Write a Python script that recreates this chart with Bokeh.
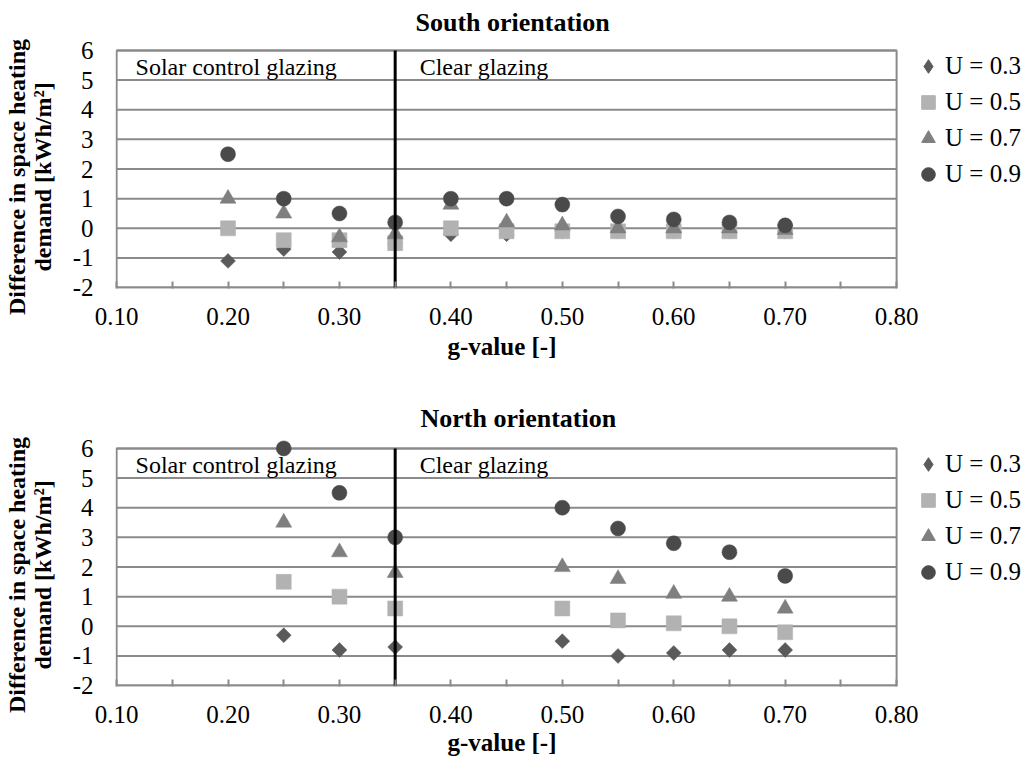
import math
from bokeh.plotting import figure
from bokeh.layouts import column
from bokeh.models import (Range1d, FixedTicker, NumeralTickFormatter, Legend,
                          LegendItem, Label, Title)
from bokeh.embed import file_html
from bokeh.resources import INLINE

# ---------------- data ----------------
series_labels = ["U = 0.3", "U = 0.5", "U = 0.7", "U = 0.9"]

south_g = [0.20, 0.25, 0.30, 0.35, 0.40, 0.45, 0.50, 0.55, 0.60, 0.65, 0.70]
south_u03 = [-1.1, -0.7, -0.8, -0.5, -0.2, -0.2, -0.1, -0.1, -0.1, -0.1, -0.1]
south_u05 = [0.0, -0.4, -0.4, -0.5, 0.0, -0.1, -0.1, -0.1, -0.1, -0.1, -0.1]
south_u07 = [1.0, 0.5, -0.3, -0.2, 0.8, 0.2, 0.1, 0.0, 0.0, 0.0, -0.05]
south_u09 = [2.5, 1.0, 0.5, 0.2, 1.0, 1.0, 0.8, 0.4, 0.3, 0.2, 0.1]

north_g = [0.25, 0.30, 0.35, 0.50, 0.55, 0.60, 0.65, 0.70]
north_u03 = [-0.3, -0.8, -0.7, -0.5, -1.0, -0.9, -0.8, -0.8]
north_u05 = [1.5, 1.0, 0.6, 0.6, 0.2, 0.1, 0.0, -0.2]
north_u07 = [3.5, 2.5, 1.8, 2.0, 1.6, 1.1, 1.0, 0.6]
north_u09 = [6.0, 4.5, 3.0, 4.0, 3.3, 2.8, 2.5, 1.7]

x_ticks = [0.10, 0.20, 0.30, 0.40, 0.50, 0.60, 0.70, 0.80]
x_minor = [0.15, 0.25, 0.35, 0.45, 0.55, 0.65, 0.75]
y_ticks = [-2, -1, 0, 1, 2, 3, 4, 5, 6]
g_boundary = 0.35
region_labels = ["Solar control glazing", "Clear glazing"]

# ---------------- style ----------------
FONT = "Liberation Serif"
GRID = "#8a8a8a"
COLORS = ["#5a5a5a", "#b2b2b2", "#7f7f7f", "#4a4a4a"]
PLOT_MARKERS = ["square", "square", "triangle", "circle"]
PLOT_ANGLES = [0.785398, 0.0, 0.0, 0.0]
PLOT_SIZES = [10.5, 15, 16, 15]
LEGEND_MARKERS = ["diamond", "square", "triangle", "circle"]

FRAME_W = 910            # plot area incl. the legend strip on the right
PX_PER_UNIT = 780 / 0.7  # g-axis scale
PAD = "\u00a0" * 4       # nudges the rotated y title slightly downward


def make_panel(title, g, series, min_top, min_bottom, title_offset, title_valign,
               xtitle_standoff):
    x0 = x_ticks[0] - 1.1 / PX_PER_UNIT
    x1 = x0 + FRAME_W / PX_PER_UNIT
    p = figure(frame_width=FRAME_W, frame_height=247, output_backend="svg", toolbar_location=None,
               x_range=Range1d(x0, x1),
               y_range=Range1d(y_ticks[0] - 0.03, y_ticks[-1] + 0.3),
               min_border_left=115, min_border_right=0,
               min_border_top=min_top, min_border_bottom=min_bottom,
               background_fill_color="white", border_fill_color="white")
    p.outline_line_color = None

    p.title.text = title
    p.title.text_font = FONT
    p.title.text_font_size = "26px"
    p.title.text_font_style = "bold"
    p.title.text_color = "black"
    p.title.align = "left"
    p.title.offset = title_offset
    p.title.vertical_align = title_valign

    xa = p.xaxis[0]
    xa.ticker = FixedTicker(ticks=x_ticks, minor_ticks=x_minor)
    xa.formatter = NumeralTickFormatter(format="0.00")
    xa.axis_line_color = None
    xa.major_tick_in = 7
    xa.major_tick_out = 0
    xa.minor_tick_in = 7
    xa.minor_tick_out = 0
    xa.major_tick_line_color = GRID
    xa.major_tick_line_width = 2
    xa.minor_tick_line_color = GRID
    xa.minor_tick_line_width = 2
    xa.major_label_standoff = 19
    xa.major_label_text_font = FONT
    xa.major_label_text_font_size = "25px"
    xa.major_label_text_color = "black"

    p.add_layout(Title(text="g-value [-]", align="left", offset=332,
                       text_font=FONT, text_font_size="25px", text_font_style="bold",
                       text_color="black", standoff=xtitle_standoff), "below")

    ya = p.yaxis[0]
    ya.ticker = FixedTicker(ticks=y_ticks)
    ya.formatter = NumeralTickFormatter(format="0")
    ya.axis_line_color = None
    ya.major_tick_in = 0
    ya.major_tick_out = 0
    ya.minor_tick_in = 0
    ya.minor_tick_out = 0
    ya.major_label_standoff = 22
    ya.major_label_text_font = FONT
    ya.major_label_text_font_size = "25px"
    ya.major_label_text_color = "black"
    ya.axis_label = "Difference in space heating" + PAD + "\ndemand [kWh/m\u00b2]" + PAD
    ya.axis_label_text_font = FONT
    ya.axis_label_text_font_size = "24px"
    ya.axis_label_text_font_style = "bold"
    ya.axis_label_text_color = "black"
    ya.axis_label_text_line_height = 1.0
    ya.axis_label_standoff = 14

    p.xgrid.visible = False
    p.ygrid.visible = False
    # horizontal gridlines, limited to the g-value span
    p.segment(x0=[x_ticks[0]] * len(y_ticks), y0=y_ticks,
              x1=[x_ticks[-1]] * len(y_ticks), y1=y_ticks,
              line_color=GRID, line_width=2)
    # plot-area box
    p.quad(left=[x_ticks[0]], right=[x_ticks[-1]], bottom=[y_ticks[0]], top=[y_ticks[-1]],
           fill_color=None, line_color=GRID, line_width=2)

    for vals, mk, ang, sz, col in zip(series, PLOT_MARKERS, PLOT_ANGLES, PLOT_SIZES, COLORS):
        p.scatter(x=g, y=vals, marker=mk, angle=ang, size=sz,
                  fill_color=col, line_color=col, line_width=0.5)

    p.segment(x0=[g_boundary], y0=[y_ticks[0]], x1=[g_boundary], y1=[y_ticks[-1]],
              line_color="black", line_width=3)

    for txt, xpos in zip(region_labels, [0.117, 0.372]):
        p.add_layout(Label(x=xpos, y=5.44, text=txt, text_font=FONT, text_font_size="24px",
                           text_color="black", text_align="left", text_baseline="alphabetic"))

    items = []
    for lab, mk, col in zip(series_labels, LEGEND_MARKERS, COLORS):
        r = p.scatter(x=[g[0]], y=[math.nan], marker=mk, fill_color=col, line_color=col)
        items.append(LegendItem(label=lab, renderers=[r]))
    legend = Legend(items=items, location=(796, 97), orientation="vertical",
                    glyph_width=34, glyph_height=34, label_height=34, spacing=2,
                    padding=0, margin=0, label_standoff=0,
                    border_line_color=None, background_fill_alpha=0,
                    label_text_font=FONT, label_text_font_size="25px",
                    label_text_color="black")
    p.add_layout(legend, "center")
    return p


south = make_panel("South orientation", south_g,
                   [south_u03, south_u05, south_u07, south_u09],
                   min_top=40, min_bottom=110, title_offset=300, title_valign="bottom",
                   xtitle_standoff=6)
north = make_panel("North orientation", north_g,
                   [north_u03, north_u05, north_u07, north_u09],
                   min_top=40, min_bottom=80, title_offset=305, title_valign="top",
                   xtitle_standoff=3)

layout = column(south, north, spacing=0)
open("out.html", "w").write(file_html(layout, INLINE))
